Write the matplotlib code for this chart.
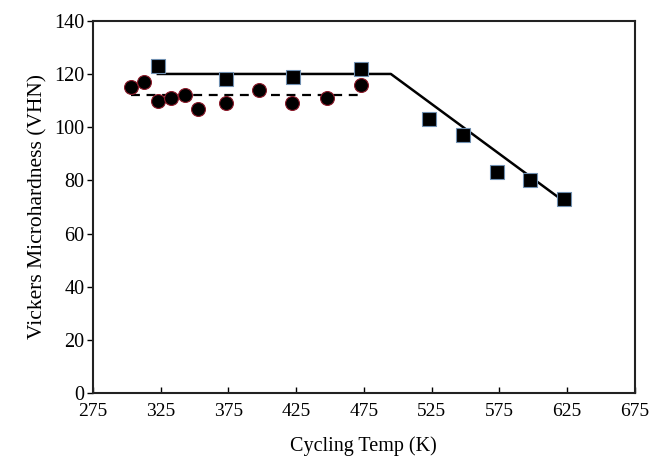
import numpy as np
import matplotlib.pyplot as plt

plt.rcParams['font.family'] = ['Liberation Serif', 'DejaVu Serif']

# hardness after cycling, two data sets
temp_sq = [323, 373, 423, 473, 523, 548, 573, 598, 623]
vhn_sq = [123, 118, 119, 122, 103, 97, 83, 80, 73]

temp_ci = [303, 313, 323, 333, 343, 353, 373, 398, 422, 448, 473]
vhn_ci = [115, 117, 110, 111, 112, 107, 109, 114, 109, 111, 116]

# trend lines
fit_sq_x = [323, 495, 623]
fit_sq_y = [120, 120, 72]
fit_ci_x = [303, 473]
fit_ci_y = [112, 112]

xticks = [275, 325, 375, 425, 475, 525, 575, 625, 675]
yticks = [0, 20, 40, 60, 80, 100, 120, 140]

fig = plt.figure(figsize=(6.49, 4.61), dpi=100)
ax = fig.add_axes([0.143, 0.147, 0.835, 0.808])

ax.plot(fit_sq_x, fit_sq_y, color='black', lw=1.8, zorder=1)
ax.plot(fit_ci_x, fit_ci_y, color='black', lw=1.6, ls=(0, (4, 3)), zorder=1)

ax.plot(temp_ci, vhn_ci, 'o', ms=10, mfc='black', mec='#8b1a2a', mew=0.8, zorder=2)
ax.plot(temp_sq, vhn_sq, 's', ms=10, mfc='black', mec='#6f8fb0', mew=0.8, zorder=3)

ax.set_xlim(275, 675)
ax.set_ylim(0, 140)
ax.set_xticks(xticks)
ax.set_yticks(yticks)
ax.tick_params(axis='x', direction='in', length=4, width=1, labelsize=14, pad=7)
ax.tick_params(axis='y', direction='out', length=4, width=1, labelsize=14.5, pad=2)
for s in ax.spines.values():
    s.set_linewidth(1.5)
    s.set_color('#222222')

ax.set_xlabel('Cycling Temp (K)', fontsize=14.5, labelpad=12)
ax.set_ylabel('Vickers Microhardness (VHN)', fontsize=15.5, labelpad=5)

fig.savefig('out.png', dpi=100)
